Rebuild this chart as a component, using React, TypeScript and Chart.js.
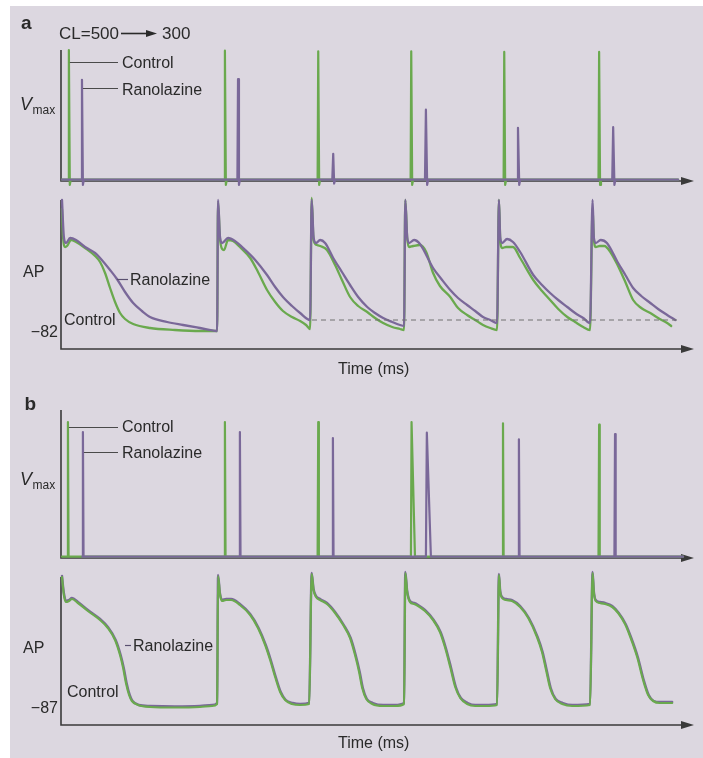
import { useEffect, useRef } from "react";
import { Chart, registerables } from "chart.js";

Chart.register(...registerables);

type Pt = [number, number];

// ---------- data (time in ms, Vmax in arbitrary units, AP in mV) ----------
const TIME_MAX = 2025;

const aVmaxControl: Pt[] = [
  [0, 0], [20, 0], [22, 100], [25, -4], [28, 0],
  [520, 0], [522, 99.5], [525, -4], [528, 0],
  [819, 0], [821, 99], [824, -4], [827, 0],
  [1117, 0], [1119, 99], [1122, -4], [1125, 0],
  [1415, 0], [1417, 98.5], [1420, -4], [1423, 0],
  [1719, 0], [1721, 98.5], [1724, -4], [1727, 0],
  [1974, 0],
];
const aVmaxRanolazine: Pt[] = [
  [0, 0], [62, 0], [64, 77], [67, -4], [70, 0],
  [562, 0], [564, 77.5], [567, -4], [570, 0],
  [866, 0], [869, 20], [872, -3], [875, 0],
  [1163, 0], [1166, 54], [1170, -4], [1173, 0],
  [1458, 0], [1461, 40], [1465, -4], [1468, 0],
  [1763, 0], [1766, 40.5], [1770, -4], [1773, 0],
  [1974, 0],
];

const aApControl: Pt[] = [
  [0, 40], [3, 14], [10, 2], [16, 3], [29, 9], [45, 7], [74, 1], [106, -7], [122, -13], [138, -24],
  [154, -39], [170, -53], [186, -64], [202, -70], [228, -75], [282, -79], [362, -81], [442, -82], [497, -82],
  [500, 47], [506, 11], [513, 0], [519, -1], [532, 9], [548, 8], [570, 2], [603, -9], [628, -23], [657, -41],
  [683, -53], [708, -62], [737, -68], [763, -72], [782, -76], [795, -80],
  [800, 51], [806, 9], [817, 4], [827, 3], [849, -1], [875, -16], [897, -31], [923, -48], [949, -57], [978, -63],
  [1003, -69], [1029, -74], [1058, -78], [1083, -80], [1096, -81],
  [1100, 49], [1106, 11], [1112, 2], [1125, 3], [1147, 4], [1167, -3], [1189, -24], [1211, -37], [1244, -48],
  [1269, -59], [1298, -66], [1324, -71], [1349, -76], [1372, -79], [1394, -81],
  [1400, 49], [1404, 11], [1410, 1], [1423, 2], [1445, 2], [1468, -9], [1510, -31], [1538, -42], [1564, -51],
  [1590, -60], [1619, -68], [1644, -73], [1670, -78], [1692, -81],
  [1700, 41], [1704, 11], [1710, 2], [1723, 3], [1738, 3], [1757, -3], [1780, -16], [1805, -33], [1830, -51],
  [1856, -59], [1885, -64], [1910, -69], [1939, -74], [1952, -77],
];
const aApRanolazine: Pt[] = [
  [0, 49], [6, 12], [13, 6], [26, 11], [45, 9], [74, 2], [106, -4], [122, -9], [154, -21], [176, -30],
  [202, -43], [228, -54], [256, -62], [282, -68], [337, -73], [388, -76], [442, -79], [497, -82],
  [500, 49], [506, 13], [513, 6], [532, 11], [554, 8], [587, -1], [619, -11], [657, -26], [683, -38],
  [708, -48], [737, -57], [763, -64], [795, -71],
  [800, 49], [806, 12], [814, 6], [827, 9], [843, 6], [869, -9], [897, -23], [923, -36], [949, -48],
  [978, -58], [1003, -64], [1029, -69], [1058, -73], [1083, -76], [1096, -77],
  [1100, 49], [1106, 12], [1112, 6], [1128, 9], [1147, 5], [1189, -19], [1218, -31], [1244, -41],
  [1269, -49], [1298, -56], [1324, -62], [1349, -68], [1372, -71], [1394, -74],
  [1400, 49], [1404, 12], [1410, 6], [1426, 10], [1445, 7], [1468, -3], [1510, -26], [1538, -36],
  [1564, -44], [1590, -51], [1619, -58], [1644, -64], [1670, -69], [1692, -74],
  [1700, 49], [1704, 12], [1710, 6], [1726, 9], [1746, 6], [1780, -13], [1805, -26], [1830, -39],
  [1856, -47], [1885, -54], [1910, -60], [1939, -66], [1965, -71],
];
const aRestLine: Pt[] = [[801, -71], [1971, -71]];

const bVmaxControl: Pt[] = [
  [0, 0], [17, 0], [19, 101], [21, 0],
  [520, 0], [522, 101], [524, 0],
  [819, 0], [821, 101], [823, 0],
  [1118, 0], [1120, 101], [1131, 0],
  [1411, 0], [1413, 100], [1415, 0],
  [1719, 0], [1721, 99], [1723, 0],
  [1990, 0],
];
const bVmaxRanolazine: Pt[] = [
  [65, 0], [67, 93.5], [69, 0],
  [568, 0], [570, 93.5], [572, 0],
  [866, 0], [868, 89], [870, 0],
  [1166, 0], [1169, 93], [1182, 0],
  [1462, 0], [1464, 88], [1466, 0],
  [1770, 0], [1772, 92], [1774, 0],
  [1990, 0],
];

const bApControl: Pt[] = [
  [0, 43], [6, 25], [13, 18], [22, 19], [32, 21], [51, 17], [83, 9], [122, 0], [147, -8], [170, -20],
  [186, -35], [196, -48], [205, -63], [215, -75], [224, -81], [244, -85], [282, -87], [362, -87.5],
  [442, -87], [481, -86], [497, -84],
  [500, 44], [506, 26], [513, 19], [526, 20], [542, 20], [570, 15], [603, 5], [628, -8], [651, -25],
  [667, -40], [683, -57], [699, -72], [715, -80], [737, -84], [763, -85], [792, -84],
  [800, 46], [806, 30], [814, 23], [827, 20], [849, 16], [875, 7], [901, -5], [923, -18], [939, -35],
  [952, -52], [962, -68], [975, -79], [994, -84], [1029, -86], [1067, -86], [1096, -84],
  [1100, 47], [1106, 28], [1115, 18], [1128, 16], [1141, 14], [1163, 9], [1189, 0], [1211, -12],
  [1227, -27], [1244, -47], [1260, -67], [1276, -78], [1298, -84], [1324, -86], [1356, -86], [1394, -85],
  [1400, 45], [1404, 28], [1410, 22], [1423, 20], [1442, 19], [1468, 13], [1494, 2], [1522, -17],
  [1538, -32], [1551, -50], [1564, -68], [1580, -79], [1603, -84], [1635, -86], [1692, -85],
  [1700, 47], [1704, 28], [1710, 19], [1723, 17], [1740, 16], [1763, 13], [1782, 7], [1804, -4],
  [1821, -17], [1843, -37], [1862, -60], [1878, -75], [1894, -81], [1916, -83], [1955, -83],
];
const bApRanolazine: Pt[] = [
  [0, 44], [6, 27], [13, 19], [22, 20], [32, 22], [51, 18], [83, 10], [122, 1], [147, -7], [172, -20],
  [188, -35], [198, -48], [207, -63], [217, -75], [226, -81], [246, -85], [282, -86], [362, -86.5],
  [442, -86], [481, -85], [497, -83],
  [500, 45], [506, 27], [513, 20], [526, 21], [542, 21], [570, 16], [603, 6], [630, -8], [653, -25],
  [669, -40], [685, -57], [701, -72], [717, -80], [739, -83], [763, -84], [792, -83],
  [800, 47], [806, 31], [814, 24], [827, 21], [849, 17], [875, 8], [903, -5], [925, -18], [941, -35],
  [954, -52], [964, -68], [977, -79], [996, -83], [1029, -85], [1067, -85], [1096, -83],
  [1100, 48], [1106, 29], [1115, 19], [1128, 17], [1141, 15], [1163, 10], [1191, 0], [1213, -12],
  [1229, -27], [1246, -47], [1262, -67], [1278, -78], [1300, -83], [1324, -85], [1356, -85], [1394, -84],
  [1400, 46], [1404, 29], [1410, 23], [1423, 21], [1442, 20], [1468, 14], [1496, 2], [1524, -17],
  [1540, -32], [1553, -50], [1566, -68], [1582, -79], [1605, -83], [1635, -85], [1692, -84],
  [1700, 48], [1704, 29], [1710, 20], [1723, 18], [1740, 17], [1763, 14], [1784, 7], [1806, -4],
  [1823, -17], [1845, -37], [1864, -60], [1880, -75], [1896, -81], [1916, -82], [1955, -82],
];

const restLabelA = "\u221282";
const restValueA = -82;
const restLabelB = "\u221287";
const restValueB = -87;
const cycleLabel = ["CL=500", "300"];
const seriesNames = ["Control", "Ranolazine"];
const timeLabel = "Time (ms)";

// ---------- styles ----------
const W = 703;
const H = 758;
const BG = "#dcd7e0";
const GREEN = "#6aa94e";
const PURPLE = "#7a6899";
const AXIS = "#3a3a3a";
const INK = "#2a2a2a";
const LEADER = "#4a4a4a";
const FONT = '"Liberation Sans", Arial, Helvetica, sans-serif';

type Panel = {
  top: number;
  bottom: number;
  right: number;
  yMin: number;
  yMax: number;
  axisTop: number;
  datasets: any[];
  draw: (chart: any) => void;
};

const toXY = (pts: Pt[]) => pts.map(([x, y]) => ({ x, y }));

// "layer": higher = drawn later (on top)
const line = (pts: Pt[], color: string, width: number, smooth: boolean, layer: number, extra: any = {}) => ({
  data: toXY(pts),
  borderColor: color,
  borderWidth: width,
  pointRadius: 0,
  fill: false,
  clip: false,
  tension: 0,
  order: 10 - layer,
  cubicInterpolationMode: smooth ? "monotone" : "default",
  borderJoinStyle: "round",
  borderCapStyle: "round",
  ...extra,
});

function txt(ctx: CanvasRenderingContext2D, s: string, x: number, y: number, font: string, align: CanvasTextAlign = "left") {
  ctx.font = font;
  ctx.fillStyle = INK;
  ctx.textAlign = align;
  ctx.textBaseline = "alphabetic";
  ctx.fillText(s, x, y);
}

function seg(ctx: CanvasRenderingContext2D, x1: number, y1: number, x2: number, y2: number, color = LEADER, w = 1) {
  ctx.strokeStyle = color;
  ctx.lineWidth = w;
  ctx.beginPath();
  ctx.moveTo(x1, y1);
  ctx.lineTo(x2, y2);
  ctx.stroke();
}

function vmaxLabel(ctx: CanvasRenderingContext2D, base: number) {
  txt(ctx, "V", 20, base, `italic 18px ${FONT}`);
  txt(ctx, "max", 32.5, base + 3.5, `12px ${FONT}`);
}

const F16 = `16px ${FONT}`;

const panels: Panel[] = [
  {
    top: 50, bottom: 181, right: 694, yMin: -1, yMax: 100, axisTop: 100,
    datasets: [line(aVmaxControl, GREEN, 2.2, false, 1), line(aVmaxRanolazine, PURPLE, 2.2, false, 2)],
    draw: (chart) => {
      const { ctx, scales: { x } } = chart;
      txt(ctx, "a", 21, 28.5, `bold 19px ${FONT}`);
      txt(ctx, cycleLabel[0], 59, 39, `17px ${FONT}`);
      seg(ctx, 121, 33.5, 149, 33.5, INK, 1.6);
      ctx.fillStyle = INK;
      ctx.beginPath();
      ctx.moveTo(157, 33.5);
      ctx.lineTo(146, 30);
      ctx.lineTo(146, 37);
      ctx.closePath();
      ctx.fill();
      txt(ctx, cycleLabel[1], 162, 39, `17px ${FONT}`);
      seg(ctx, x.getPixelForValue(aVmaxControl[2][0]) + 1, 62.5, 118, 62.5);
      seg(ctx, x.getPixelForValue(aVmaxRanolazine[2][0]) + 1, 88.5, 118, 88.5);
      txt(ctx, seriesNames[0], 122, 68.3, F16);
      txt(ctx, seriesNames[1], 122, 94.5, F16);
      vmaxLabel(ctx, 110);
    },
  },
  {
    top: 197, bottom: 349, right: 694, yMin: -100, yMax: 52, axisTop: 49,
    datasets: [
      line(aRestLine, "#707070", 1, false, 3, { borderDash: [5, 4], borderCapStyle: "butt" }),
      line(aApControl, GREEN, 2.3, true, 1),
      line(aApRanolazine, PURPLE, 2.3, true, 2),
    ],
    draw: (chart) => {
      const { ctx, scales: { y } } = chart;
      txt(ctx, "AP", 23, 277.4, F16);
      seg(ctx, 117, 279.5, 128, 279.5, "#5a5070", 1.2);
      txt(ctx, seriesNames[1], 130, 285, F16);
      txt(ctx, seriesNames[0], 64, 324.7, F16);
      txt(ctx, restLabelA, 58, y.getPixelForValue(restValueA) + 6, F16, "right");
      txt(ctx, timeLabel, 338, 374, F16);
    },
  },
  {
    top: 410, bottom: 558, right: 694, yMin: -1, yMax: 110, axisTop: 110,
    datasets: [line(bVmaxControl, GREEN, 2.2, false, 1), line(bVmaxRanolazine, PURPLE, 2.2, false, 2)],
    draw: (chart) => {
      const { ctx, scales: { x } } = chart;
      txt(ctx, "b", 24.5, 410, `bold 19px ${FONT}`);
      seg(ctx, x.getPixelForValue(bVmaxControl[2][0]) + 1, 427.5, 118, 427.5);
      seg(ctx, x.getPixelForValue(bVmaxRanolazine[1][0]) + 1, 452.5, 118, 452.5);
      txt(ctx, seriesNames[0], 122, 432.3, F16);
      txt(ctx, seriesNames[1], 122, 458.3, F16);
      vmaxLabel(ctx, 485);
    },
  },
  {
    top: 574, bottom: 725, right: 694, yMin: -105, yMax: 46, axisTop: 43,
    datasets: [line(bApRanolazine, PURPLE, 2.4, true, 1), line(bApControl, GREEN, 2.2, true, 2)],
    draw: (chart) => {
      const { ctx, scales: { y } } = chart;
      txt(ctx, "AP", 23, 653, F16);
      seg(ctx, 125, 645.5, 131, 645.5, "#5a5070", 1.2);
      txt(ctx, seriesNames[1], 133, 651, F16);
      txt(ctx, seriesNames[0], 67, 697, F16);
      txt(ctx, restLabelB, 58, y.getPixelForValue(restValueB) + 6, F16, "right");
      txt(ctx, timeLabel, 338, 748, F16);
    },
  },
];

function makeConfig(p: Panel): any {
  const decor = {
    id: "decor",
    beforeDatasetsDraw(chart: any) {
      const { ctx, chartArea, scales: { x, y } } = chart;
      const x0 = x.getPixelForValue(0) - 1;
      const yb = chartArea.bottom;
      const yt = y.getPixelForValue(p.axisTop);
      ctx.save();
      ctx.strokeStyle = AXIS;
      ctx.lineWidth = 1.6;
      ctx.beginPath();
      ctx.moveTo(x0, yt);
      ctx.lineTo(x0, yb);
      ctx.lineTo(chartArea.right - 10, yb);
      ctx.stroke();
      ctx.fillStyle = AXIS;
      ctx.beginPath();
      ctx.moveTo(chartArea.right, yb);
      ctx.lineTo(chartArea.right - 13, yb - 4);
      ctx.lineTo(chartArea.right - 13, yb + 4);
      ctx.closePath();
      ctx.fill();
      ctx.restore();
    },
    afterDraw(chart: any) {
      chart.ctx.save();
      p.draw(chart);
      chart.ctx.restore();
    },
  };
  return {
    type: "line",
    data: { datasets: p.datasets },
    options: {
      responsive: false,
      animation: false,
      devicePixelRatio: 1,
      events: [],
      layout: { padding: { left: 62, right: W - p.right, top: p.top, bottom: H - p.bottom } },
      scales: {
        x: { type: "linear", min: 0, max: TIME_MAX, display: false },
        y: { type: "linear", min: p.yMin, max: p.yMax, display: false },
      },
      plugins: { legend: { display: false }, tooltip: { enabled: false }, title: { display: false } },
    },
    plugins: [decor],
  };
}

export default function App() {
  const canvases = useRef<(HTMLCanvasElement | null)[]>([]);
  useEffect(() => {
    const charts = panels.map((p, i) => new Chart(canvases.current[i] as HTMLCanvasElement, makeConfig(p)));
    return () => charts.forEach((c) => c.destroy());
  }, []);
  return (
    <div style={{ position: "absolute", left: 0, top: 0, width: W, height: H, background: "#fff", overflow: "hidden" }}>
      <div style={{ position: "absolute", left: 10, top: 6, right: 0, bottom: 0, background: BG }} />
      {panels.map((_, i) => (
        <canvas
          key={i}
          ref={(el) => {
            canvases.current[i] = el;
          }}
          width={W}
          height={H}
          style={{ position: "absolute", left: 0, top: 0, width: W, height: H }}
        />
      ))}
    </div>
  );
}
